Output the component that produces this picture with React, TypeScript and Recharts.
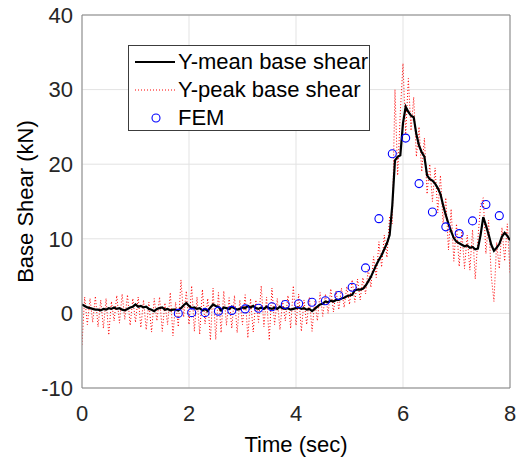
import {
  ComposedChart,
  Line,
  Scatter,
  XAxis,
  YAxis,
  CartesianGrid,
  ReferenceLine,
  Legend,
} from "recharts";

// samples every 0.05 s from 0 to 8 s
const SAMPLE_STEP = 0.05;

const meanShear = [
  1.2, 1.0, 0.8, 0.7, 0.6, 0.5, 0.5, 0.4, 0.6, 0.5,
  0.7, 0.6, 0.8, 0.6, 0.7, 0.5, 0.4, 0.6, 0.8, 0.9,
  1.2, 0.9, 1.0, 0.8, 0.9, 0.6, 0.5, 0.3, 0.6, 0.7,
  0.8, 0.5, 0.6, 0.4, 0.5, 0.5, 0.4, 0.7, 1.1, 1.4,
  1.0, 0.7, 0.8, 0.6, 0.7, 0.4, 0.6, 0.3, 0.8, 1.2,
  1.0, 0.9, 0.4, 0.8, 0.7, 0.6, 0.9, 0.7, 0.5, 0.6,
  0.8, 0.7, 1.0, 0.8, 1.0, 0.7, 0.6, 0.8, 0.6, 0.9,
  0.7, 0.6, 0.8, 0.6, 0.9, 0.7, 0.6, 0.7, 0.5, 0.6,
  0.7, 0.8, 0.6, 0.7, 0.5, 0.6, 0.3, 0.6, 0.9, 1.2,
  1.3, 1.6, 1.5, 1.7, 1.6, 1.8, 1.8, 2.0, 2.1, 2.3,
  2.4, 2.5, 3.1, 3.2, 3.2, 3.3, 3.7, 4.3, 4.9, 5.7,
  6.5, 7.2, 7.8, 8.6, 9.4, 10.5, 14.5, 20.5, 21.0, 21.2,
  25.5, 27.7, 27.0, 26.5, 26.3, 24.0, 22.5, 21.6, 21.0, 18.5,
  18.0, 17.8, 17.4, 16.8, 16.0, 14.5, 13.2, 12.0, 11.0, 10.1,
  9.6, 9.4, 9.2, 9.0, 9.1, 8.8, 8.9, 8.6, 8.7, 10.5,
  12.9, 11.8, 10.6, 9.2, 8.4, 8.8, 9.3, 10.3, 10.8, 10.4,
  9.8,
];

const peakShear = [
  -4.2, 2.2, -1.5, 2.0, -1.2, 2.3, -1.8, 1.8, -2.0, 2.0,
  -2.9, 1.6, -1.0, 2.4, -1.3, 2.6, -0.8, 2.5, -1.6, 2.0,
  -1.2, 2.2, -1.9, 1.8, -2.2, 1.5, -2.5, 2.0, -1.0, 2.2,
  -2.4, 1.4, -1.5, 2.8, -3.0, 1.5, -1.8, 4.5, -0.5, 3.0,
  -1.5, 3.7, -2.4, 2.2, -2.8, 3.2, -1.4, 2.0, -3.6, 3.4,
  -3.5, 2.8, -2.6, 3.0, -1.6, 2.1, -2.0, 2.4, -2.6, 1.8,
  -1.5, 2.5, -3.3, 2.0, -2.5, 1.8, -1.2, 3.7, -1.8, 2.2,
  -3.6, 3.4, -1.5, 2.0, -2.2, 1.7, -1.0, 2.4, -2.0, 3.7,
  -1.6, 2.6, -2.4, 1.8, -1.5, 2.2, -2.4, 1.6, -1.0, 2.8,
  -0.4, 2.6, 0.0, 3.3, 0.2, 3.0, 0.5, 3.4, 0.8, 3.6,
  1.2, 4.5, 1.5, 4.6, 1.8, 4.8, 2.6, 6.0, 3.5, 7.6,
  4.8, 9.6, 6.2, 10.5, 7.5, 13.0, 12.0, 30.0, 18.5, 27.0,
  33.5, 24.0, 31.5, 24.5, 29.0, 21.0, 25.0, 19.0, 23.5, 16.0,
  20.0, 15.0, 19.5, 13.5, 18.5, 12.0, 15.5, 8.5, 14.0, 7.0,
  12.0, 6.3, 11.0, 6.0, 10.5, 5.8, 11.2, 4.6, 10.0, 14.5,
  15.5, 8.0, 12.5, 5.0, 1.6, 9.5, 6.0, 11.5, 7.0, 12.0,
  5.5,
];

const femTimes = [
  1.8, 2.05, 2.3, 2.55, 2.8, 3.05, 3.3, 3.55, 3.8, 4.05,
  4.3, 4.55, 4.8, 5.05, 5.3, 5.55, 5.8, 6.05, 6.3, 6.55,
  6.8, 7.05, 7.3, 7.55, 7.8,
];
const femShear = [
  0.0, 0.1, 0.1, 0.3, 0.4, 0.6, 0.7, 0.9, 1.2, 1.3,
  1.5, 1.7, 2.4, 3.5, 6.1, 12.7, 21.4, 23.5, 17.4, 13.6,
  11.6, 10.7, 12.4, 14.6, 13.1,
];

const xTicks = [0, 2, 4, 6, 8];
const yTicks = [-10, 0, 10, 20, 30, 40];

const meanData = meanShear.map((v, i) => ({ t: +(i * SAMPLE_STEP).toFixed(2), mean: v }));
const peakData = peakShear.map((v, i) => ({ t: +(i * SAMPLE_STEP).toFixed(2), peak: v }));
const femData = femTimes.map((t, i) => ({ t, fem: femShear[i] }));

const FONT = "'Liberation Sans', Arial, Helvetica, sans-serif";
const TEXT = "#262626";
const BOX = "#858585";

function FemMarker(props: any) {
  const { cx, cy } = props;
  return <circle cx={cx} cy={cy} r={4} fill="none" stroke="#0000ff" strokeWidth={1.1} />;
}

function LegendBox() {
  const row = { display: "flex", alignItems: "center", height: 28 } as const;
  return (
    <div
      style={{
        border: "1px solid #3c3c3c",
        background: "#fff",
        width: 242,
        height: 86,
        boxSizing: "border-box",
        padding: "2px 0 0 6px",
        fontFamily: FONT,
        fontSize: 22,
        color: "#000",
        lineHeight: "28px",
      }}
    >
      <div style={row}>
        <svg width={43} height={10}>
          <line x1={0} y1={5} x2={40} y2={5} stroke="#000" strokeWidth={2.2} />
        </svg>
        <span>Y-mean base shear</span>
      </div>
      <div style={row}>
        <svg width={43} height={10}>
          <line x1={0} y1={5} x2={40} y2={5} stroke="#ff0000" strokeWidth={1} strokeDasharray="1 2" />
        </svg>
        <span>Y-peak base shear</span>
      </div>
      <div style={row}>
        <svg width={43} height={12}>
          <circle cx={21} cy={6} r={4} fill="none" stroke="#0000ff" strokeWidth={1.1} />
        </svg>
        <span>FEM</span>
      </div>
    </div>
  );
}

export default function App() {
  return (
    <div style={{ position: "absolute", left: 0, top: 0, background: "#fff" }}>
      <ComposedChart
        width={519}
        height={460}
        margin={{ top: 15, right: 9, bottom: 0, left: 0 }}
        style={{ fontFamily: FONT }}
      >
        <CartesianGrid stroke="#e3e3e3" strokeWidth={1} />
        <XAxis
          type="number"
          dataKey="t"
          domain={[0, 8]}
          ticks={xTicks}
          allowDataOverflow
          tickLine={false}
          tickSize={0}
          tickMargin={17}
          axisLine={{ stroke: BOX }}
          tick={{ fontSize: 22, fill: TEXT, fontFamily: FONT }}
          height={72}
          label={{
            value: "Time (sec)",
            position: "insideBottom",
            offset: 8,
            style: { fontSize: 22, fill: "#000", fontFamily: FONT },
          }}
        />
        <YAxis
          type="number"
          domain={[-10, 40]}
          ticks={yTicks}
          allowDataOverflow
          tickLine={false}
          tickSize={0}
          tickMargin={9}
          axisLine={{ stroke: BOX }}
          tick={{ fontSize: 22, fill: TEXT, fontFamily: FONT }}
          width={82}
          label={{
            value: "Base Shear (kN)",
            angle: -90,
            position: "insideLeft",
            offset: 25,
            style: { fontSize: 22, fill: "#000", fontFamily: FONT, textAnchor: "middle" },
          }}
        />
        <ReferenceLine y={40} stroke={BOX} />
        <ReferenceLine x={8} stroke={BOX} />
        <Line
          data={peakData}
          dataKey="peak"
          type="linear"
          stroke="#ff0000"
          strokeWidth={1}
          strokeDasharray="1 2"
          dot={false}
          activeDot={false}
          isAnimationActive={false}
        />
        <Line
          data={meanData}
          dataKey="mean"
          type="linear"
          stroke="#000"
          strokeWidth={2.2}
          dot={false}
          activeDot={false}
          isAnimationActive={false}
        />
        <Scatter data={femData} dataKey="fem" shape={<FemMarker />} isAnimationActive={false} />
        <Legend
          layout="vertical"
          align="center"
          verticalAlign="middle"
          wrapperStyle={{ left: 128, top: 45, width: 242, height: 86 }}
          content={() => <LegendBox />}
        />
      </ComposedChart>
    </div>
  );
}
